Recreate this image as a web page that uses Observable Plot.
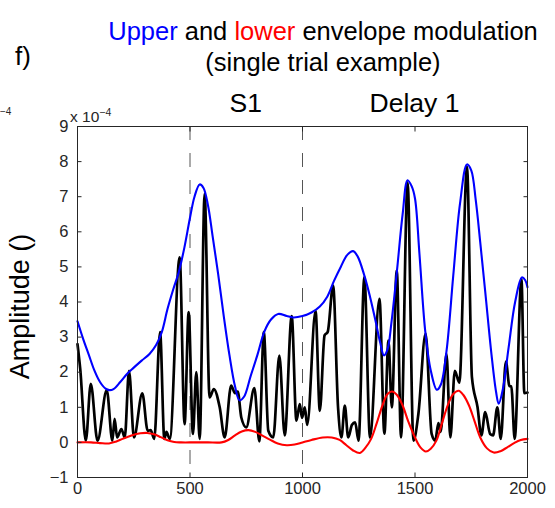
<!DOCTYPE html>
<html><head><meta charset="utf-8">
<script src="https://cdn.jsdelivr.net/npm/d3@7"></script>
<script src="https://cdn.jsdelivr.net/npm/@observablehq/plot@0.6"></script>
<style>body{margin:0;background:#fff;} svg{display:block;}</style>
</head><body><div id="chart"></div>
<script>
// ---- data (amplitude in units of 1e-4) ----
const signalTime = [0,12,37,59,89,130,155,165,176,195,210,229,251,288,312,325,341,367,386,395,410,454,476,494,513,528,543,565,587,606,632,654,683,700,712,728,750,786,808,828,848,870,897,921,952,973,988,998,1010,1021,1058,1077,1098,1112,1136,1158,1173,1188,1203,1220,1234,1249,1275,1300,1342,1364,1382,1397,1419,1438,1467,1493,1515,1547,1574,1590,1604,1614,1640,1657,1677,1697,1731,1753,1778,1795,1812,1834,1847,1866,1881,1904,1920,1928,1943,1973,1986,2000];
const signalAmp = [2.8,2.1,0.05,1.67,0.05,1.49,0.05,0.67,0.14,0.38,0.14,2.04,0.14,1.40,0.33,0.35,0.10,3.14,0.10,0.30,0.10,5.27,0.52,3.71,0.24,2.00,0.10,7.08,1.28,1.52,1.00,0.14,1.62,1.40,1.45,0.71,0.43,1.55,0.03,3.14,0.33,0.14,2.47,0.20,3.60,0.62,1.09,0.70,1.00,0.50,3.75,0.90,3.05,3.15,4.47,1.00,0.14,1.05,0.14,0.50,0.57,0.05,4.71,0.14,4.09,0.25,2.90,1.00,4.90,0.14,7.41,0.05,0.81,3.10,0.24,0.05,0.55,0.30,2.52,0.14,2.04,1.70,7.86,1.86,1.00,0.20,0.86,0.24,0.20,1.00,0.10,2.30,1.60,1.60,0.10,4.65,1.40,1.42];

const upperTime = [0,25,50,75,100,125,142,160,190,220,250,285,320,350,375,400,425,450,475,500,520,543,560,580,600,625,650,675,700,720,740,770,800,830,860,892,930,960,1000,1040,1077,1110,1140,1170,1200,1225,1245,1275,1300,1325,1345,1362,1378,1395,1420,1445,1467,1485,1500,1520,1545,1570,1597,1615,1640,1670,1700,1731,1750,1770,1790,1812,1840,1860,1872,1890,1916,1945,1975,1990,2000];
const upperAmp = [3.45,2.95,2.5,2.05,1.72,1.53,1.49,1.52,1.72,1.95,2.13,2.33,2.52,2.78,3.15,3.8,4.35,4.85,5.55,6.4,7.0,7.35,7.25,6.75,5.9,4.8,3.6,2.5,1.6,1.2,1.3,1.9,2.5,3.15,3.5,3.66,3.6,3.56,3.6,3.7,3.87,4.15,4.6,5.0,5.35,5.45,5.3,4.75,4.15,3.45,2.85,2.48,2.65,3.4,4.9,6.5,7.47,7.3,6.95,5.35,3.2,2.05,1.5,1.65,2.6,4.75,6.8,7.92,7.75,6.9,5.7,4.3,2.5,1.45,1.1,1.5,2.7,4.0,4.7,4.62,4.42];

const lowerTime = [0,60,100,140,170,200,240,280,310,340,370,400,430,460,520,580,640,670,700,730,760,790,820,855,890,930,965,1000,1040,1090,1130,1165,1195,1225,1255,1280,1305,1330,1355,1378,1398,1420,1445,1470,1500,1525,1548,1570,1595,1620,1645,1670,1694,1715,1740,1765,1790,1820,1850,1880,1910,1940,1970,2000];
const lowerAmp = [0,0,-0.02,-0.03,0.02,0.1,0.2,0.26,0.27,0.23,0.15,0.06,0.01,0,0,0,0,0.07,0.2,0.31,0.35,0.3,0.2,0.08,-0.03,-0.08,-0.06,0,0.07,0.14,0.14,0.07,-0.08,-0.23,-0.3,-0.15,0.1,0.55,1.05,1.38,1.45,1.35,1.05,0.6,0.14,-0.15,-0.26,-0.18,0.05,0.55,1.05,1.38,1.47,1.35,1.05,0.6,0.14,-0.17,-0.29,-0.25,-0.14,-0.02,0.07,0.1];

const ticksY = [-1,0,1,2,3,4,5,6,7,8,9];
const ticksX = [0,500,1000,1500,2000];
const epochBounds = [500,1000];
const epochLabels = ["S1","Delay 1"];
const epochCenters = [750,1500];

// ---- chart ----
const rows = (t, v) => t.map((x, i) => ({t: x, v: v[i]}));
const font = "'Liberation Sans', Arial, Helvetica, sans-serif";
const axisColor = "#262626";
const fmt = d => d < 0 ? "\u2212" + (-d) : String(d);
const noText = () => "";
const tk = 4.5;

const plot = Plot.plot({
  width: 555, height: 508,
  marginLeft: 77, marginRight: 28, marginTop: 126, marginBottom: 31,
  style: {fontFamily: font, background: "white", color: axisColor, overflow: "visible"},
  x: {domain: [0, 2000]},
  y: {domain: [-1, 9]},
  marks: [
    Plot.ruleX(epochBounds, {stroke: "#555", strokeWidth: 1, strokeDasharray: "14,13"}),
    Plot.line(rows(signalTime, signalAmp), {x: "t", y: "v", stroke: "black", strokeWidth: 2.7, curve: "monotone-x"}),
    Plot.line(rows(upperTime, upperAmp), {x: "t", y: "v", stroke: "#0000ff", strokeWidth: 2.1, curve: "catmull-rom"}),
    Plot.line(rows(lowerTime, lowerAmp), {x: "t", y: "v", stroke: "#ff0000", strokeWidth: 2.1, curve: "catmull-rom"}),
    Plot.frame({stroke: axisColor, strokeWidth: 1}),
    Plot.axisY(ticksY, {tickSize: 0, tickPadding: 9, fontSize: 16.5, tickFormat: fmt, label: null}),
    Plot.axisY(ticksY, {tickSize: tk, dx: tk, tickFormat: noText, label: null}),
    Plot.axisY(ticksY, {anchor: "right", tickSize: tk, dx: -tk, tickFormat: noText, label: null}),
    Plot.axisX(ticksX, {tickSize: 0, tickPadding: 5, fontSize: 16.5, tickFormat: fmt, label: null}),
    Plot.axisX(ticksX, {tickSize: tk, dy: -tk, tickFormat: noText, label: null}),
    Plot.axisX(ticksX, {anchor: "top", tickSize: tk, dy: tk, tickFormat: noText, label: null})
  ]
});

const svg = d3.select(plot);
const xs = plot.scale("x");

// title
const t1 = svg.append("text").attr("x", 323).attr("y", 40).attr("text-anchor", "middle")
  .style("font-size", "25.5px").style("font-family", font).style("white-space", "pre").attr("fill", "black");
t1.append("tspan").attr("fill", "#0000ff").text("Upper");
t1.append("tspan").text(" and ");
t1.append("tspan").attr("fill", "#ff0000").text("lower");
t1.append("tspan").text(" envelope modulation");
svg.append("text").attr("x", 323).attr("y", 71).attr("text-anchor", "middle")
  .style("font-size", "25.5px").style("font-family", font).attr("fill", "black")
  .text("(single trial example)");

// panel letter
svg.append("text").attr("x", 15).attr("y", 65).attr("text-anchor", "start")
  .style("font-size", "26px").style("font-family", font).attr("fill", "black").text("f)");

// fragment of neighbouring panel exponent
svg.append("text").attr("x", 0).attr("y", 115).attr("text-anchor", "start")
  .style("font-size", "10px").style("font-family", font).attr("fill", "#262626").text("\u22124");

// epoch labels
epochLabels.forEach((lab, i) => {
  svg.append("text").attr("x", xs.apply(epochCenters[i])).attr("y", 112).attr("text-anchor", "middle")
    .style("font-size", "26.5px").style("font-family", font).attr("fill", "black").text(lab);
});

// exponent
const ex = svg.append("text").attr("x", 70).attr("y", 122).attr("text-anchor", "start")
  .style("font-size", "15.5px").style("font-family", font).attr("fill", axisColor);
ex.append("tspan").text("x 10");
ex.append("tspan").attr("dy", -6).style("font-size", "10.5px").text("\u22124");

// y label
svg.append("text").attr("transform", "translate(28.5,306.5) rotate(-90)").attr("text-anchor", "middle")
  .style("font-size", "27px").style("font-family", font).attr("fill", "black").text("Amplitude ()");

document.getElementById("chart").appendChild(plot);
</script>
</body></html>
